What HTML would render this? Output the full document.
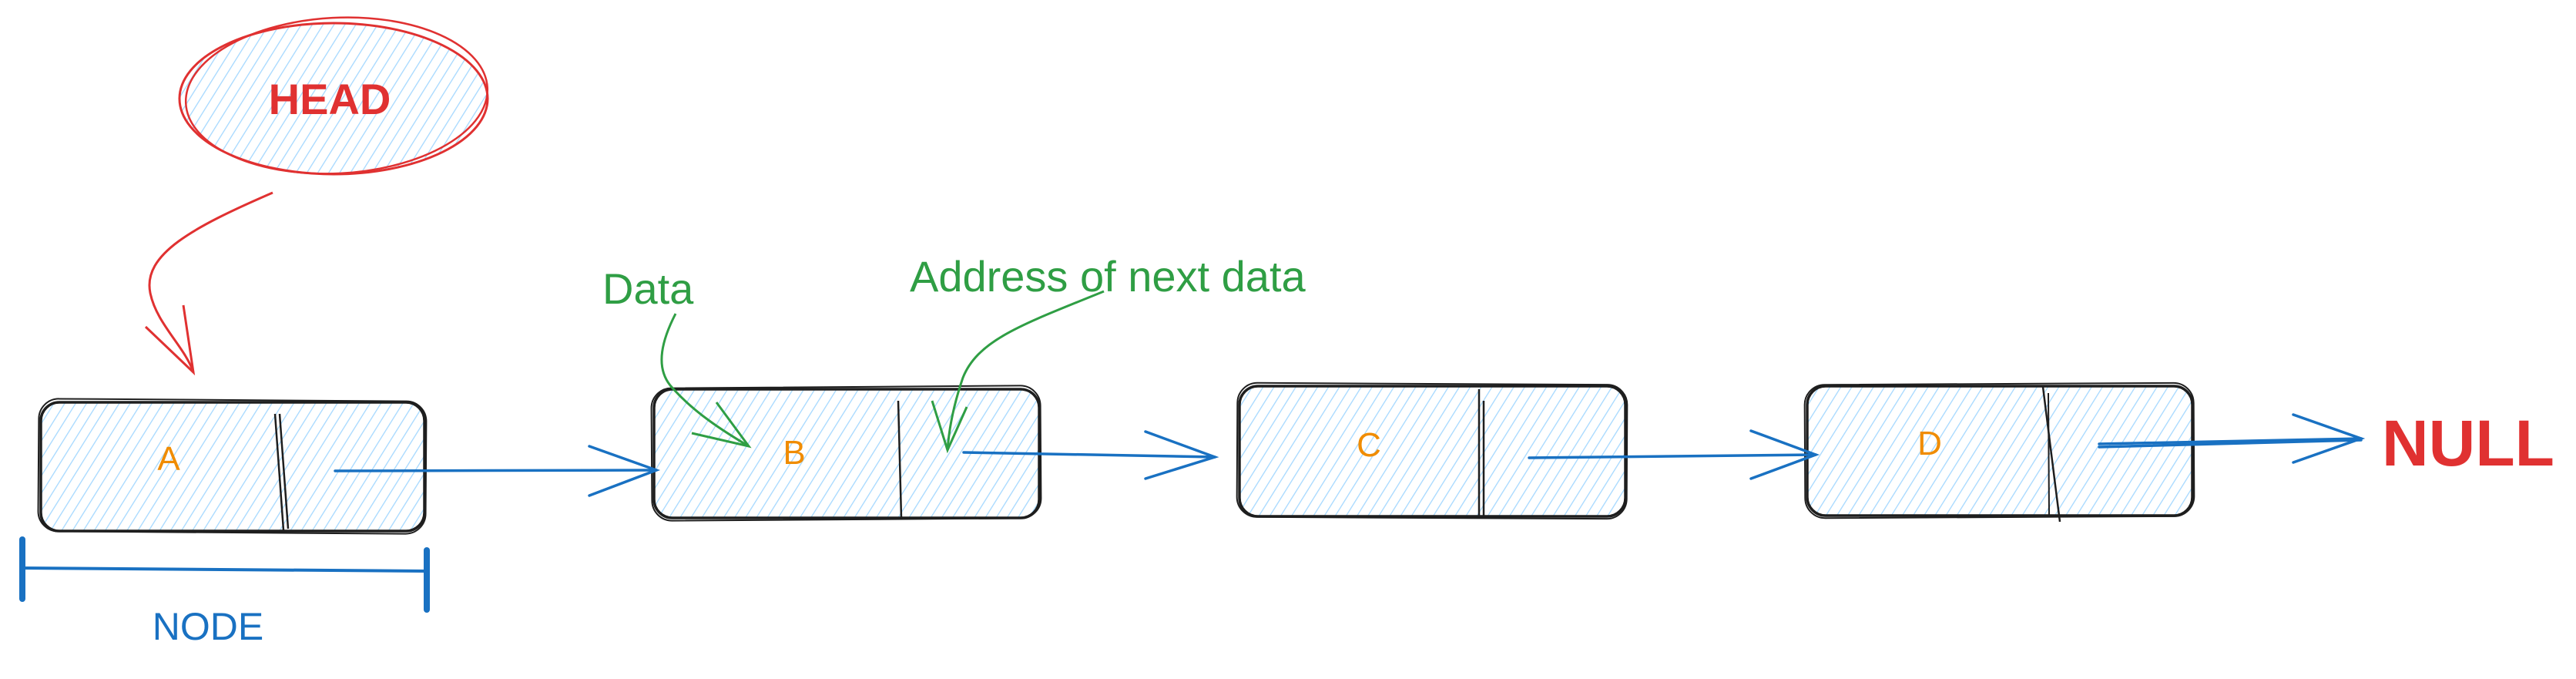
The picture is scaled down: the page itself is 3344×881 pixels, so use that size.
<!DOCTYPE html>
<html><head><meta charset="utf-8"><style>
html,body{margin:0;padding:0;background:#fff;}
svg{display:block;}
text{font-family:"Liberation Sans",sans-serif;}
</style></head><body>
<svg width="3344" height="881" viewBox="0 0 3344 881" xmlns="http://www.w3.org/2000/svg">
<defs>
<pattern id="h" patternUnits="userSpaceOnUse" width="12" height="12" patternTransform="rotate(32)">
<line x1="0" y1="0" x2="0" y2="12" stroke="#a5d8ff" stroke-width="2.6"/>
</pattern>
</defs>
<rect width="3344" height="881" fill="#fff"/>

<!-- HEAD -->
<ellipse cx="433" cy="128" rx="200" ry="98" fill="url(#h)"/>
<ellipse cx="433" cy="128" rx="200" ry="98" fill="none" stroke="#e03131" stroke-width="3"/>
<ellipse cx="437" cy="124" rx="196" ry="101" fill="none" stroke="#e03131" stroke-width="2.5" transform="rotate(-3 437 124)"/>
<text x="428" y="148" font-size="56" fill="#e03131" text-anchor="middle" font-weight="600">HEAD</text>
<path d="M354 250 C 250 295, 185 330, 195 380 C 203 420, 240 450, 251 483" fill="none" stroke="#e03131" stroke-width="3"/>
<path d="M189 424 L251 483 L238 396" fill="none" stroke="#e03131" stroke-width="3"/>

<!-- Node boxes -->
<g stroke="#1e1e1e" stroke-width="3.5" fill="url(#h)">
<rect x="53" y="522" width="498" height="167" rx="24"/>
<rect x="849" y="505" width="500" height="167" rx="24"/>
<rect x="1609" y="501" width="501" height="169" rx="24"/>
<rect x="2346" y="501" width="500" height="168" rx="24"/>
</g>
<g stroke="#1e1e1e" stroke-width="2" fill="none">
<rect x="50" y="519" width="503" height="172" rx="26" transform="rotate(0.4 300 600)"/>
<rect x="846" y="502" width="505" height="172" rx="26" transform="rotate(-0.4 1100 590)"/>
<rect x="1606" y="498" width="506" height="174" rx="26" transform="rotate(0.3 1860 585)"/>
<rect x="2343" y="498" width="505" height="173" rx="26" transform="rotate(-0.3 2600 585)"/>
<line x1="357" y1="537" x2="368" y2="688" stroke-width="2.5"/>
<line x1="363" y1="537" x2="374" y2="686" stroke-width="2.5"/>
<line x1="1166" y1="520" x2="1170" y2="672" stroke-width="2.5"/>
<line x1="1920" y1="505" x2="1920" y2="670" stroke-width="2.5"/>
<line x1="1926" y1="520" x2="1926" y2="672" stroke-width="2.5"/>
<line x1="2652" y1="502" x2="2674" y2="677" stroke-width="2.5"/>
<line x1="2659" y1="510" x2="2660" y2="669" stroke-width="2"/>
</g>
<g fill="#f08c00" font-size="44" text-anchor="middle">
<text x="219" y="610">A</text>
<text x="1031" y="602">B</text>
<text x="1777" y="592">C</text>
<text x="2505" y="590">D</text>
</g>

<!-- blue arrows -->
<g stroke="#1971c2" stroke-width="3.5" fill="none" stroke-linecap="round">
<path d="M435 611 L852 610"/>
<path d="M765 579 L852 610 L765 643"/>
<path d="M1251 587 L1577 593"/>
<path d="M1487 560 L1577 593 L1487 621"/>
<path d="M1985 594 L2357 590"/>
<path d="M2273 559 L2357 590 L2273 621"/>
<path d="M2725 576 L3065 569"/>
<path d="M2725 580 L3065 571"/>
<path d="M2977 538 L3065 569 L2977 600"/>
</g>

<!-- NODE bracket -->
<g stroke="#1971c2" stroke-width="8" stroke-linecap="round" fill="none">
<line x1="29" y1="700" x2="29" y2="777"/>
<line x1="554" y1="714" x2="554" y2="791"/>
</g>
<line x1="29" y1="737" x2="554" y2="741" stroke="#1971c2" stroke-width="4"/>
<text x="270" y="830" font-size="50" fill="#1971c2" text-anchor="middle">NODE</text>

<!-- green labels -->
<text x="782" y="394" font-size="56" fill="#2f9e44">Data</text>
<path d="M877 407 C 860 440, 850 475, 870 500 C 900 535, 940 560, 972 579" fill="none" stroke="#2f9e44" stroke-width="3"/>
<path d="M898 562 L972 579 L930 522" fill="none" stroke="#2f9e44" stroke-width="3"/>
<text x="1181" y="378" font-size="56" fill="#2f9e44">Address of next data</text>
<path d="M1433 378 C 1330 420, 1270 440, 1250 490 C 1238 525, 1232 555, 1230 584" fill="none" stroke="#2f9e44" stroke-width="3"/>
<path d="M1210 520 L1230 584 L1255 528" fill="none" stroke="#2f9e44" stroke-width="3"/>

<text x="3092" y="604" font-size="84" fill="#e03131" font-weight="bold">NULL</text>
</svg>
</body></html>
